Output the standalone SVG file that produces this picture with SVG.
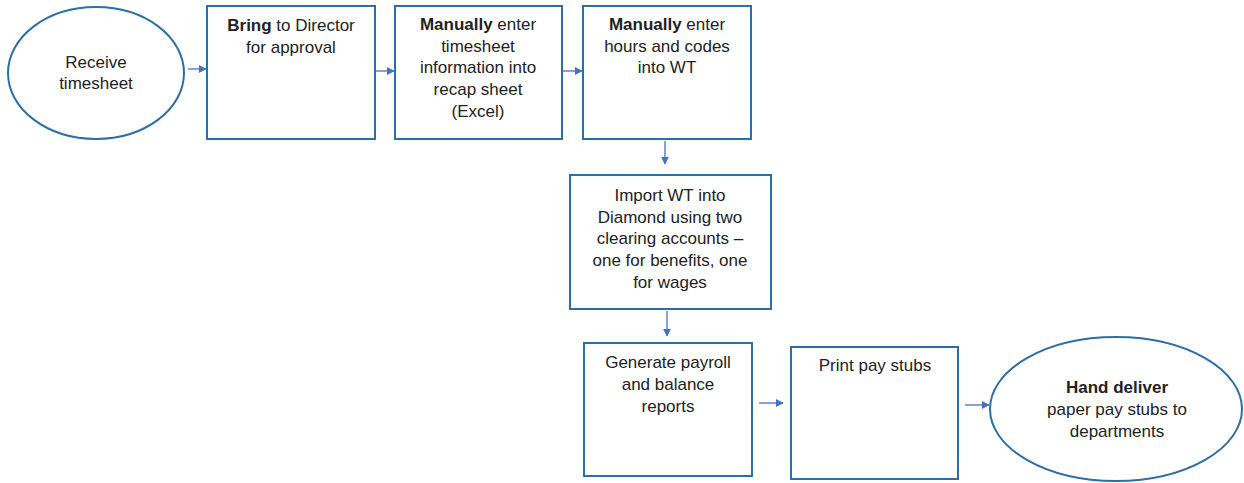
<svg xmlns="http://www.w3.org/2000/svg" width="1244" height="483" viewBox="0 0 1244 483">
  <style>
    .shape { fill: #ffffff; stroke: #2e6fa3; stroke-width: 2; }
    .label { font-family: "Liberation Sans", Arial, sans-serif; font-size: 17px; fill: #222222; text-anchor: middle; }
    .label .b { font-weight: bold; }
    .conn { stroke: #4472c4; stroke-width: 1.3; fill: none; marker-end: url(#arrow); }
  </style>
  <defs>
    <marker id="arrow" viewBox="0 0 10 10" refX="9" refY="5" markerWidth="8" markerHeight="8" markerUnits="userSpaceOnUse" orient="auto">
      <path d="M0,0 L10,5 L0,10 z" fill="#4472c4"/>
    </marker>
  </defs>
  <rect width="1244" height="483" fill="#ffffff"/>

  <g id="connectors">
    <line class="conn" x1="188" y1="69" x2="206" y2="69"/>
    <line class="conn" x1="376" y1="71" x2="394" y2="71"/>
    <line class="conn" x1="563" y1="71" x2="582" y2="71"/>
    <line class="conn" x1="665" y1="141" x2="665" y2="164"/>
    <line class="conn" x1="667" y1="311" x2="667" y2="336"/>
    <line class="conn" x1="759" y1="403" x2="783" y2="403"/>
    <line class="conn" x1="965" y1="405" x2="989" y2="405"/>
  </g>

  <g id="receive">
    <ellipse class="shape" cx="96" cy="73" rx="88" ry="66"/>
    <text class="label"><tspan x="96" y="68">Receive</tspan><tspan x="96" y="89">timesheet</tspan></text>
  </g>

  <g id="bring">
    <rect class="shape" x="207" y="6" width="168" height="133"/>
    <text class="label"><tspan x="291" y="31"><tspan class="b">Bring</tspan> to Director</tspan><tspan x="291" y="53">for approval</tspan></text>
  </g>

  <g id="recap">
    <rect class="shape" x="395" y="6" width="167" height="133"/>
    <text class="label"><tspan x="478" y="30"><tspan class="b">Manually</tspan> enter</tspan><tspan x="478" y="52">timesheet</tspan><tspan x="478" y="73">information into</tspan><tspan x="478" y="95">recap sheet</tspan><tspan x="478" y="117">(Excel)</tspan></text>
  </g>

  <g id="wt">
    <rect class="shape" x="583" y="6" width="168" height="133"/>
    <text class="label"><tspan x="667" y="30"><tspan class="b">Manually</tspan> enter</tspan><tspan x="667" y="52">hours and codes</tspan><tspan x="667" y="73">into WT</tspan></text>
  </g>

  <g id="import">
    <rect class="shape" x="570" y="175" width="201" height="134"/>
    <text class="label"><tspan x="670" y="201">Import WT into</tspan><tspan x="670" y="223">Diamond using two</tspan><tspan x="670" y="244">clearing accounts –</tspan><tspan x="670" y="266">one for benefits, one</tspan><tspan x="670" y="288">for wages</tspan></text>
  </g>

  <g id="generate">
    <rect class="shape" x="584" y="343" width="168" height="133"/>
    <text class="label"><tspan x="668" y="368">Generate payroll</tspan><tspan x="668" y="390">and balance</tspan><tspan x="668" y="412">reports</tspan></text>
  </g>

  <g id="print">
    <rect class="shape" x="791" y="347" width="167" height="132"/>
    <text class="label"><tspan x="875" y="371">Print pay stubs</tspan></text>
  </g>

  <g id="deliver">
    <ellipse class="shape" cx="1116" cy="409" rx="126" ry="72"/>
    <text class="label"><tspan x="1117" y="393" class="b">Hand deliver</tspan><tspan x="1117" y="415">paper pay stubs to</tspan><tspan x="1117" y="437">departments</tspan></text>
  </g>
</svg>
